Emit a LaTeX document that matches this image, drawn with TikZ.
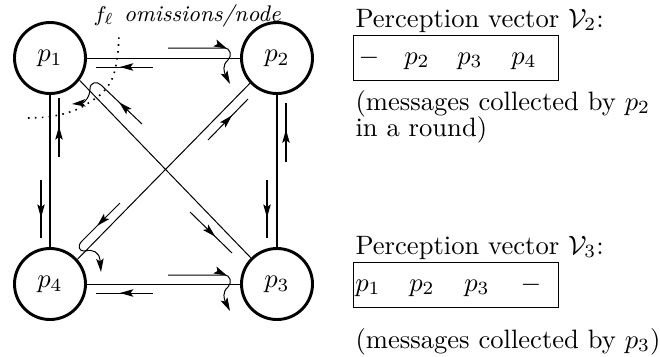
\documentclass[tikz,border=0pt]{standalone}
\usetikzlibrary{arrows.meta,decorations.markings}
\begin{document}
\begin{tikzpicture}[x=0.376pt,y=-0.376pt,
  proc/.style={circle,draw,line width=1.1pt,minimum size=26.7pt,inner sep=0pt},
  edge/.style={line width=0.38pt},
  tip/.style={-{Stealth[length=5pt,width=2.8pt,inset=1pt]}},
  msg/.style={line width=0.38pt,postaction={decorate},
    decoration={markings,mark=at position #1 with {\arrow{Stealth[length=5pt,width=2.8pt,inset=1pt]}}}},
  msg/.default=0.6,
  vbox/.style={draw,line width=0.5pt,minimum width=77pt,minimum height=16.9pt,inner sep=0pt,anchor=north west},
  txt/.style={anchor=base west,inner sep=0pt},
  ent/.style={anchor=base,inner sep=0pt}]
\useasboundingbox (0,0) rectangle (660,356);
% processes
\node[proc] (p1) at (50,58) {$p_1$};
\node[proc] (p2) at (277,58) {$p_2$};
\node[proc] (p4) at (50,284) {$p_4$};
\node[proc] (p3) at (277,284) {$p_3$};
% links
\draw[edge] (p1) -- (p2);
\draw[edge] (p4) -- (p3);
\draw[edge] (p1) -- (p4);
\draw[edge] (p2) -- (p3);
\draw[edge] (p1.-37) -- (p3.135);
\draw[edge] (p2.-137) -- (p4.42);
% messages
\draw[msg=0.6] (168,48) -- (224,48) .. controls (231,48) and (232,56) .. (228,60)
  .. controls (222,65) and (224,72) .. (230,84) [tip];
\draw[msg=0.6] (168,275) -- (224,275) .. controls (231,275) and (232,283) .. (228,287)
  .. controls (222,292) and (224,299) .. (230,311) [tip];
\draw[msg=0.58] (153,67) -- (96,67);
\draw[msg=0.58] (153,293) -- (96,293);
\draw[msg=0.52] (59,157) -- (59,98);
\draw[msg=0.55] (286,162) -- (286,103);
\draw[msg=0.65] (41,180) -- (41,238);
\draw[msg=0.65] (267,180) -- (267,238);
\draw[msg=0.6] (190,212) -- (232,253);
\draw[msg=0.6] (208,140) -- (248,99);
\draw[msg=0.32] (142,124) -- (101,85) .. controls (97,81) and (90,82) .. (90,89)
  .. controls (90,97) and (84,103) .. (72,104) [tip];
\draw[msg=0.32] (120,203) -- (82,241) .. controls (77,246) and (79,252) .. (85,251)
  .. controls (93,249) and (99,252) .. (100,260) -- (101,272) [tip];
% omission zone
\draw[dotted,line width=0.6pt] plot[smooth] coordinates {(28,118) (47,117) (63,114) (80,108) (100,95) (110,83) (115,70) (118,52) (119,34)};
\node[txt] (lbl) at (93,21) {\fontsize{8.5}{10}\selectfont $f_\ell$\hspace{3.8pt}\emph{omissions/node}};
% perception vectors
\node[txt] (t2) at (355,27) {Perception vector $\mathcal{V}_2$:};
\node[vbox] (b2) at (353,35) {};
\node[ent] (b2a) at (369,64) {$-$};
\node[ent] (b2b) at (417,64) {$p_2$};
\node[ent] (b2c) at (470,64) {$p_3$};
\node[ent] (b2d) at (524,64) {$p_4$};
\node[txt] (c2) at (355,110) {\fontsize{10}{8.6}\selectfont\begin{tabular}[t]{@{}l@{}}(messages collected by $p_2$\\in a round)\end{tabular}};
\node[txt] (t3) at (355,254) {Perception vector $\mathcal{V}_3$:};
\node[vbox] (b3) at (353,262) {};
\node[ent] (b3a) at (368,291) {$p_1$};
\node[ent] (b3b) at (422,291) {$p_2$};
\node[ent] (b3c) at (477,291) {$p_3$};
\node[ent] (b3d) at (531,291) {$-$};
\node[txt] (c3) at (355,348) {(messages collected by $p_3$)};
\end{tikzpicture}
\end{document}
